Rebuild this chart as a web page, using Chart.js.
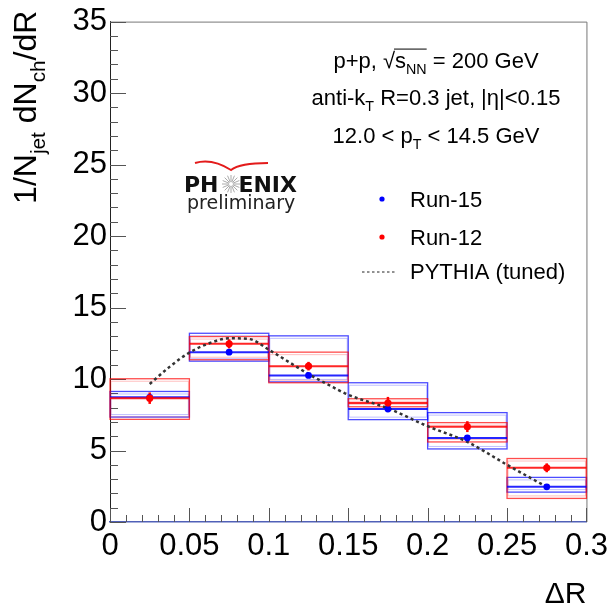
<!DOCTYPE html>
<html>
<head>
<meta charset="utf-8">
<script src="https://cdn.jsdelivr.net/npm/chart.js@4.4.1/dist/chart.umd.min.js"></script>
<style>
  html, body { margin: 0; padding: 0; background: #fff; }
  #grafico { display: block; }
</style>
</head>
<body>
<canvas id="grafico" width="614" height="608"></canvas>
<script>
// ===== Dados =====
const binEdges = [0, 0.05, 0.1, 0.15, 0.2, 0.25, 0.3];
const binCenters = [0.025, 0.075, 0.125, 0.175, 0.225, 0.275];

const run15 = [8.72, 11.88, 10.25, 7.90, 5.88, 2.46];
const run15SysLow = [7.34, 11.25, 9.80, 7.16, 5.11, 2.09];
const run15SysHigh = [9.13, 13.20, 13.02, 9.74, 7.65, 3.12];

const run12 = [8.66, 12.46, 10.90, 8.32, 6.67, 3.79];
const run12Err = [0.40, 0.32, 0.30, 0.43, 0.38, 0.31];
const run12SysLow = [7.18, 11.35, 9.74, 8.06, 5.60, 1.65];
const run12SysHigh = [10.02, 12.97, 11.88, 8.62, 6.95, 4.44];

const pythiaX = [0.025, 0.0375, 0.05, 0.0625, 0.075, 0.0875, 0.1, 0.1125, 0.125, 0.1375, 0.15, 0.175, 0.2, 0.225, 0.25, 0.275];
const pythiaY = [9.65, 10.85, 11.85, 12.50, 12.85, 12.80, 12.05, 11.20, 10.35, 9.60, 8.90, 7.95, 6.70, 5.60, 4.00, 2.45];

const xTicks = [0, 0.05, 0.1, 0.15, 0.2, 0.25, 0.3];
const yTicks = [0, 5, 10, 15, 20, 25, 30, 35];

const FONTE = '"Liberation Sans", Arial, Helvetica, sans-serif';

// ===== Texto com subscritos / barra de raiz =====
function textoRico(ctx, partes, x, y, tam, alinhar) {
  const medidas = partes.map(([txt, tipo]) => {
    ctx.font = (tipo === 'sub' ? tam * 0.65 : tam) + 'px ' + FONTE;
    return ctx.measureText(txt).width;
  });
  const total = medidas.reduce((a, b) => a + b, 0);
  let cx = alinhar === 'center' ? x - total / 2 : alinhar === 'right' ? x - total : x;
  let barraIni = null, barraFim = null;
  partes.forEach(([txt, tipo, barra], i) => {
    ctx.font = (tipo === 'sub' ? tam * 0.65 : tam) + 'px ' + FONTE;
    ctx.fillText(txt, cx, tipo === 'sub' ? y + tam * 0.28 : y);
    if (barra) {
      if (barraIni === null) barraIni = cx;
      barraFim = cx + medidas[i];
    }
    cx += medidas[i];
  });
  if (barraIni !== null) {
    ctx.save();
    ctx.lineWidth = 1;
    ctx.strokeStyle = ctx.fillStyle;
    ctx.beginPath();
    ctx.moveTo(barraIni - 1, y - tam * 0.86);
    ctx.lineTo(barraFim, y - tam * 0.86);
    ctx.stroke();
    ctx.restore();
  }
  return total;
}

// ===== Caixas de sistemático e linhas centrais =====
function rgba(c, a) {
  return `rgba(${c[0]},${c[1]},${c[2]},${a})`;
}

function desenharCaixas(ctx, x, y, baixo, alto, cor) {
  for (let i = 0; i < baixo.length; i++) {
    const x0 = x.getPixelForValue(binEdges[i]);
    const x1 = x.getPixelForValue(binEdges[i + 1]);
    const y0 = y.getPixelForValue(alto[i]);
    const y1 = y.getPixelForValue(baixo[i]);
    ctx.lineWidth = 1.3;
    ctx.strokeStyle = rgba(cor, 0.7);
    ctx.strokeRect(x0, y0, x1 - x0, y1 - y0);
    ctx.lineWidth = 1;
    ctx.strokeStyle = rgba(cor, 0.25);
    ctx.strokeRect(x0 + 1, y0 + 2.5, x1 - x0 - 2, y1 - y0 - 5);
  }
}

function desenharCentrais(ctx, x, y, valores, cor) {
  ctx.lineWidth = 2;
  ctx.strokeStyle = rgba(cor, 0.85);
  valores.forEach((v, i) => {
    const py = y.getPixelForValue(v);
    ctx.beginPath();
    ctx.moveTo(x.getPixelForValue(binEdges[i]), py);
    ctx.lineTo(x.getPixelForValue(binEdges[i + 1]), py);
    ctx.stroke();
  });
}

// ===== Plugin: moldura, ticks internos, caixas, barras de erro =====
const fundoPlugin = {
  id: 'fundo',
  beforeDatasetsDraw(chart) {
    const { ctx, chartArea: a, scales: { x, y } } = chart;
    ctx.save();

    // moldura superior e direita
    ctx.strokeStyle = '#777';
    ctx.lineWidth = 1;
    ctx.beginPath();
    ctx.moveTo(a.left, a.top + 0.5);
    ctx.lineTo(a.right + 0.5, a.top + 0.5);
    ctx.lineTo(a.right + 0.5, a.bottom);
    ctx.stroke();

    // ticks do eixo y (para dentro)
    ctx.strokeStyle = '#555';
    for (let v = 0; v <= 35; v++) {
      const py = Math.round(y.getPixelForValue(v)) + 0.5;
      const len = v % 5 === 0 ? 16 : 8;
      ctx.beginPath();
      ctx.moveTo(a.left, py);
      ctx.lineTo(a.left + len, py);
      ctx.stroke();
    }
    // ticks do eixo x
    for (let k = 0; k <= 30; k++) {
      const px = Math.round(x.getPixelForValue(k / 100)) + 0.5;
      const len = k % 5 === 0 ? 14 : 7;
      ctx.beginPath();
      ctx.moveTo(px, a.bottom);
      ctx.lineTo(px, a.bottom - len);
      ctx.stroke();
    }

    const azul = [0, 0, 255];
    const vermelho = [255, 0, 0];
    desenharCaixas(ctx, x, y, run15SysLow, run15SysHigh, azul);
    desenharCaixas(ctx, x, y, run12SysLow, run12SysHigh, vermelho);
    desenharCentrais(ctx, x, y, run15, azul);
    desenharCentrais(ctx, x, y, run12, vermelho);

    // barras de erro estatístico (Run-12)
    ctx.strokeStyle = '#f00';
    ctx.lineWidth = 2.5;
    run12.forEach((v, i) => {
      const px = x.getPixelForValue(binCenters[i]);
      ctx.beginPath();
      ctx.moveTo(px, y.getPixelForValue(v - run12Err[i]));
      ctx.lineTo(px, y.getPixelForValue(v + run12Err[i]));
      ctx.stroke();
    });

    ctx.restore();
  },
  afterDraw(chart) {
    const { ctx, chartArea: a } = chart;
    ctx.save();
    ctx.fillStyle = '#000';
    ctx.textBaseline = 'alphabetic';

    // título do eixo y (rotacionado)
    ctx.save();
    ctx.translate(36, a.top - 11);
    ctx.rotate(-Math.PI / 2);
    textoRico(ctx, [['1/N', 'n'], ['jet', 'sub'], [' dN', 'n'], ['ch', 'sub'], ['/dR', 'n']], 0, 0, 32, 'right');
    ctx.restore();

    // título do eixo x
    ctx.font = '30px ' + FONTE;
    ctx.textAlign = 'right';
    ctx.fillText('ΔR', a.right, 603);
    ctx.textAlign = 'left';

    // anotações
    const tam = 22;
    const cx = 436;
    textoRico(ctx, [['p+p, ', 'n'], ['√', 'n'], ['s', 'n', true], ['NN', 'sub', true], [' = 200 GeV', 'n']], cx, 68, tam, 'center');
    textoRico(ctx, [['anti-k', 'n'], ['T', 'sub'], [' R=0.3 jet, |η|<0.15', 'n']], cx, 105, tam, 'center');
    textoRico(ctx, [['12.0 < p', 'n'], ['T', 'sub'], [' < 14.5 GeV', 'n']], cx, 143, tam, 'center');

    // legenda
    ctx.font = tam + 'px ' + FONTE;
    ctx.fillStyle = '#00f';
    ctx.beginPath(); ctx.arc(382, 199, 2.6, 0, Math.PI * 2); ctx.fill();
    ctx.fillStyle = '#f00';
    ctx.beginPath(); ctx.arc(382, 237, 2.6, 0, Math.PI * 2); ctx.fill();
    ctx.strokeStyle = '#222';
    ctx.lineWidth = 1;
    ctx.setLineDash([2.5, 2.5]);
    ctx.beginPath(); ctx.moveTo(362, 272); ctx.lineTo(396, 272); ctx.stroke();
    ctx.setLineDash([]);
    ctx.fillStyle = '#000';
    ctx.fillText('Run-15', 410, 207);
    ctx.fillText('Run-12', 410, 245);
    ctx.fillText('PYTHIA (tuned)', 410, 279);

    // logo PHENIX preliminary
    ctx.fillStyle = '#111';
    ctx.font = 'bold 22px "DejaVu Sans", sans-serif';
    ctx.fillText('PH', 184, 192);
    ctx.textAlign = 'right';
    ctx.fillText('ENIX', 297, 192);
    ctx.textAlign = 'left';
    ctx.strokeStyle = '#aaa';
    ctx.lineWidth = 1;
    for (let k = 0; k < 16; k++) {
      const ang = (k / 16) * Math.PI * 2;
      ctx.beginPath();
      ctx.moveTo(231 + Math.cos(ang) * 2, 184 + Math.sin(ang) * 2);
      ctx.lineTo(231 + Math.cos(ang) * 9, 184 + Math.sin(ang) * 9);
      ctx.stroke();
    }
    ctx.strokeStyle = '#e31b1b';
    ctx.lineWidth = 2;
    ctx.beginPath();
    ctx.moveTo(195, 163);
    ctx.quadraticCurveTo(212, 158, 231, 170);
    ctx.quadraticCurveTo(240, 163, 268, 163);
    ctx.stroke();
    ctx.fillStyle = '#222';
    ctx.font = '19px "DejaVu Sans", sans-serif';
    ctx.fillText('preliminary', 187, 209);

    ctx.restore();
  },
};

// ===== Gráfico =====
const ctx = document.getElementById('grafico');

new Chart(ctx, {
  type: 'scatter',
  data: {
    datasets: [
      {
        label: 'Run-12',
        data: binCenters.map((c, i) => ({ x: c, y: run12[i] })),
        backgroundColor: '#f00',
        borderWidth: 0,
        pointRadius: 3.6,
      },
      {
        label: 'Run-15',
        data: binCenters.map((c, i) => ({ x: c, y: run15[i] })),
        backgroundColor: '#00f',
        borderWidth: 0,
        pointRadius: 3.4,
      },
      {
        type: 'line',
        label: 'PYTHIA (tuned)',
        data: pythiaX.map((px, i) => ({ x: px, y: pythiaY[i] })),
        borderColor: '#333',
        borderWidth: 2.5,
        borderDash: [3, 3],
        pointRadius: 0,
        fill: false,
        cubicInterpolationMode: 'monotone',
      },
    ],
  },
  options: {
    responsive: false,
    animation: false,
    layout: { padding: { top: 21, right: 26, left: 0, bottom: 0 } },
    plugins: {
      legend: { display: false },
      tooltip: { enabled: false },
    },
    scales: {
      x: {
        type: 'linear',
        min: 0,
        max: 0.3,
        afterFit: (s) => { s.height = 86; },
        afterBuildTicks: (s) => { s.ticks = xTicks.map((v) => ({ value: v })); },
        grid: { display: false, drawTicks: false },
        border: { color: '#5060b8', width: 1.5 },
        ticks: {
          autoSkip: false,
          maxRotation: 0,
          padding: 6,
          color: '#000',
          font: { family: FONTE, size: 31 },
          callback: (v) => Number(v.toFixed(2)).toString(),
        },
      },
      y: {
        min: 0,
        max: 35,
        afterFit: (s) => { s.width = 110; },
        afterBuildTicks: (s) => { s.ticks = yTicks.map((v) => ({ value: v })); },
        grid: { display: false, drawTicks: false },
        border: { color: '#222', width: 1 },
        ticks: {
          autoSkip: false,
          padding: 3,
          color: '#000',
          font: { family: FONTE, size: 31 },
        },
      },
    },
  },
  plugins: [fundoPlugin],
});
</script>
</body>
</html>
